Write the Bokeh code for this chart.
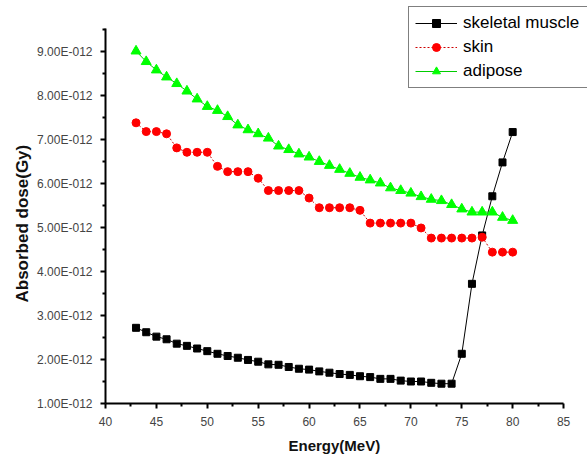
from bokeh.plotting import figure
from bokeh.models import FixedTicker, Range1d, Legend, LegendItem, Title
from bokeh.embed import file_html
from bokeh.resources import INLINE

# Energy (MeV)
energy = list(range(43, 81))

# Absorbed dose, in units of 1E-012 Gy
skeletal_muscle = [2.72, 2.62, 2.52, 2.46, 2.36, 2.31, 2.25, 2.19, 2.13, 2.08,
                   2.04, 1.99, 1.95, 1.89, 1.88, 1.83, 1.79, 1.77, 1.73, 1.70,
                   1.67, 1.65, 1.62, 1.60, 1.56, 1.56, 1.52, 1.50, 1.50, 1.47,
                   1.45, 1.45, 2.13, 3.72, 4.82, 5.71, 6.48, 7.17]
skin = [7.38, 7.18, 7.18, 7.13, 6.81, 6.71, 6.71, 6.71, 6.39, 6.27,
        6.27, 6.27, 6.12, 5.84, 5.84, 5.84, 5.84, 5.67, 5.45, 5.45,
        5.45, 5.45, 5.39, 5.10, 5.10, 5.10, 5.10, 5.10, 4.99, 4.76,
        4.76, 4.76, 4.76, 4.76, 4.78, 4.44, 4.44, 4.44]
adipose = [9.01, 8.77, 8.58, 8.42, 8.27, 8.10, 7.92, 7.75, 7.66, 7.52,
           7.33, 7.22, 7.13, 7.03, 6.85, 6.77, 6.67, 6.60, 6.50, 6.41,
           6.32, 6.23, 6.14, 6.08, 6.01, 5.90, 5.84, 5.78, 5.70, 5.64,
           5.61, 5.52, 5.42, 5.35, 5.35, 5.35, 5.23, 5.16]

x_ticks = [40, 45, 50, 55, 60, 65, 70, 75, 80, 85]
y_ticks = [1, 2, 3, 4, 5, 6, 7, 8, 9]
y_tick_labels = ["1.00E-012", "2.00E-012", "3.00E-012", "4.00E-012", "5.00E-012",
                 "6.00E-012", "7.00E-012", "8.00E-012", "9.00E-012"]

# frame spans the full canvas top/right; axis lines are limited with bounds
p = figure(width=587, height=459, output_backend="svg", toolbar_location=None,
           x_range=Range1d(40, 87.35), y_range=Range1d(1, 10.16),
           min_border_left=105, min_border_right=0, min_border_top=0,
           min_border_bottom=56)
p.outline_line_color = None
p.xgrid.visible = False
p.ygrid.visible = False
p.background_fill_color = "white"
p.border_fill_color = "white"

p.xaxis.ticker = FixedTicker(ticks=x_ticks,
                             minor_ticks=[t + 2.5 for t in x_ticks[:-1]])
p.yaxis.ticker = FixedTicker(ticks=y_ticks,
                             minor_ticks=[t + 0.5 for t in y_ticks])
p.yaxis.major_label_overrides = {t: l for t, l in zip(y_ticks, y_tick_labels)}
p.xaxis.bounds = (40, 85)
p.yaxis.bounds = (1, 9.53)

for ax in (p.xaxis[0], p.yaxis[0]):
    ax.axis_line_width = 2
    ax.axis_line_color = "black"
    ax.major_tick_line_width = 2
    ax.minor_tick_line_width = 2
    ax.major_tick_in = 0
    ax.major_tick_out = 5
    ax.minor_tick_in = 0
    ax.minor_tick_out = 3
    ax.major_label_text_font = "Liberation Sans"
    ax.major_label_text_font_size = "12px"
    ax.major_label_text_color = "#444444"
    ax.major_label_standoff = 8

# axis titles as side titles so they can be centred on the drawn axes
xtitle = Title(text="Energy(MeV)", align="left", offset=183,
               text_font="Liberation Sans", text_font_style="bold",
               text_font_size="15px", text_color="#111111", standoff=12)
p.add_layout(xtitle, "below")
ytitle = Title(text="Absorbed dose(Gy)", align="left", offset=101,
               text_font="Liberation Sans", text_font_style="bold",
               text_font_size="17px", text_color="#111111", standoff=6)
p.add_layout(ytitle, "left")

l1 = p.line(energy, skeletal_muscle, line_color="black", line_width=1)
s1 = p.scatter(energy, skeletal_muscle, marker="square", size=7,
               fill_color="black", line_color="black")
l2 = p.line(energy, skin, line_color="#cc0000", line_width=1, line_dash="2 2")
s2 = p.scatter(energy, skin, marker="circle", size=8,
               fill_color="#ff0000", line_color="#ff0000")
l3 = p.line(energy, adipose, line_color="#00cc00", line_width=1)
s3 = p.scatter(energy, adipose, marker="triangle", size=10,
               fill_color="#00ff00", line_color="#00ff00")

legend = Legend(items=[
    LegendItem(label="skeletal muscle", renderers=[l1, s1]),
    LegendItem(label="skin", renderers=[l2, s2]),
    LegendItem(label="adipose", renderers=[l3, s3]),
], location=(303, 315))
legend.label_text_font = "Liberation Sans"
legend.label_text_font_size = "17px"
legend.label_text_color = "black"
legend.border_line_color = "black"
legend.border_line_width = 1.5
legend.background_fill_color = "white"
legend.background_fill_alpha = 1
legend.padding = 6
legend.spacing = 4
legend.margin = 0
legend.label_height = 20
legend.label_width = 124
legend.glyph_height = 20
legend.glyph_width = 42
legend.label_standoff = 6
p.add_layout(legend)

open("out.html", "w").write(file_html(p, INLINE))
